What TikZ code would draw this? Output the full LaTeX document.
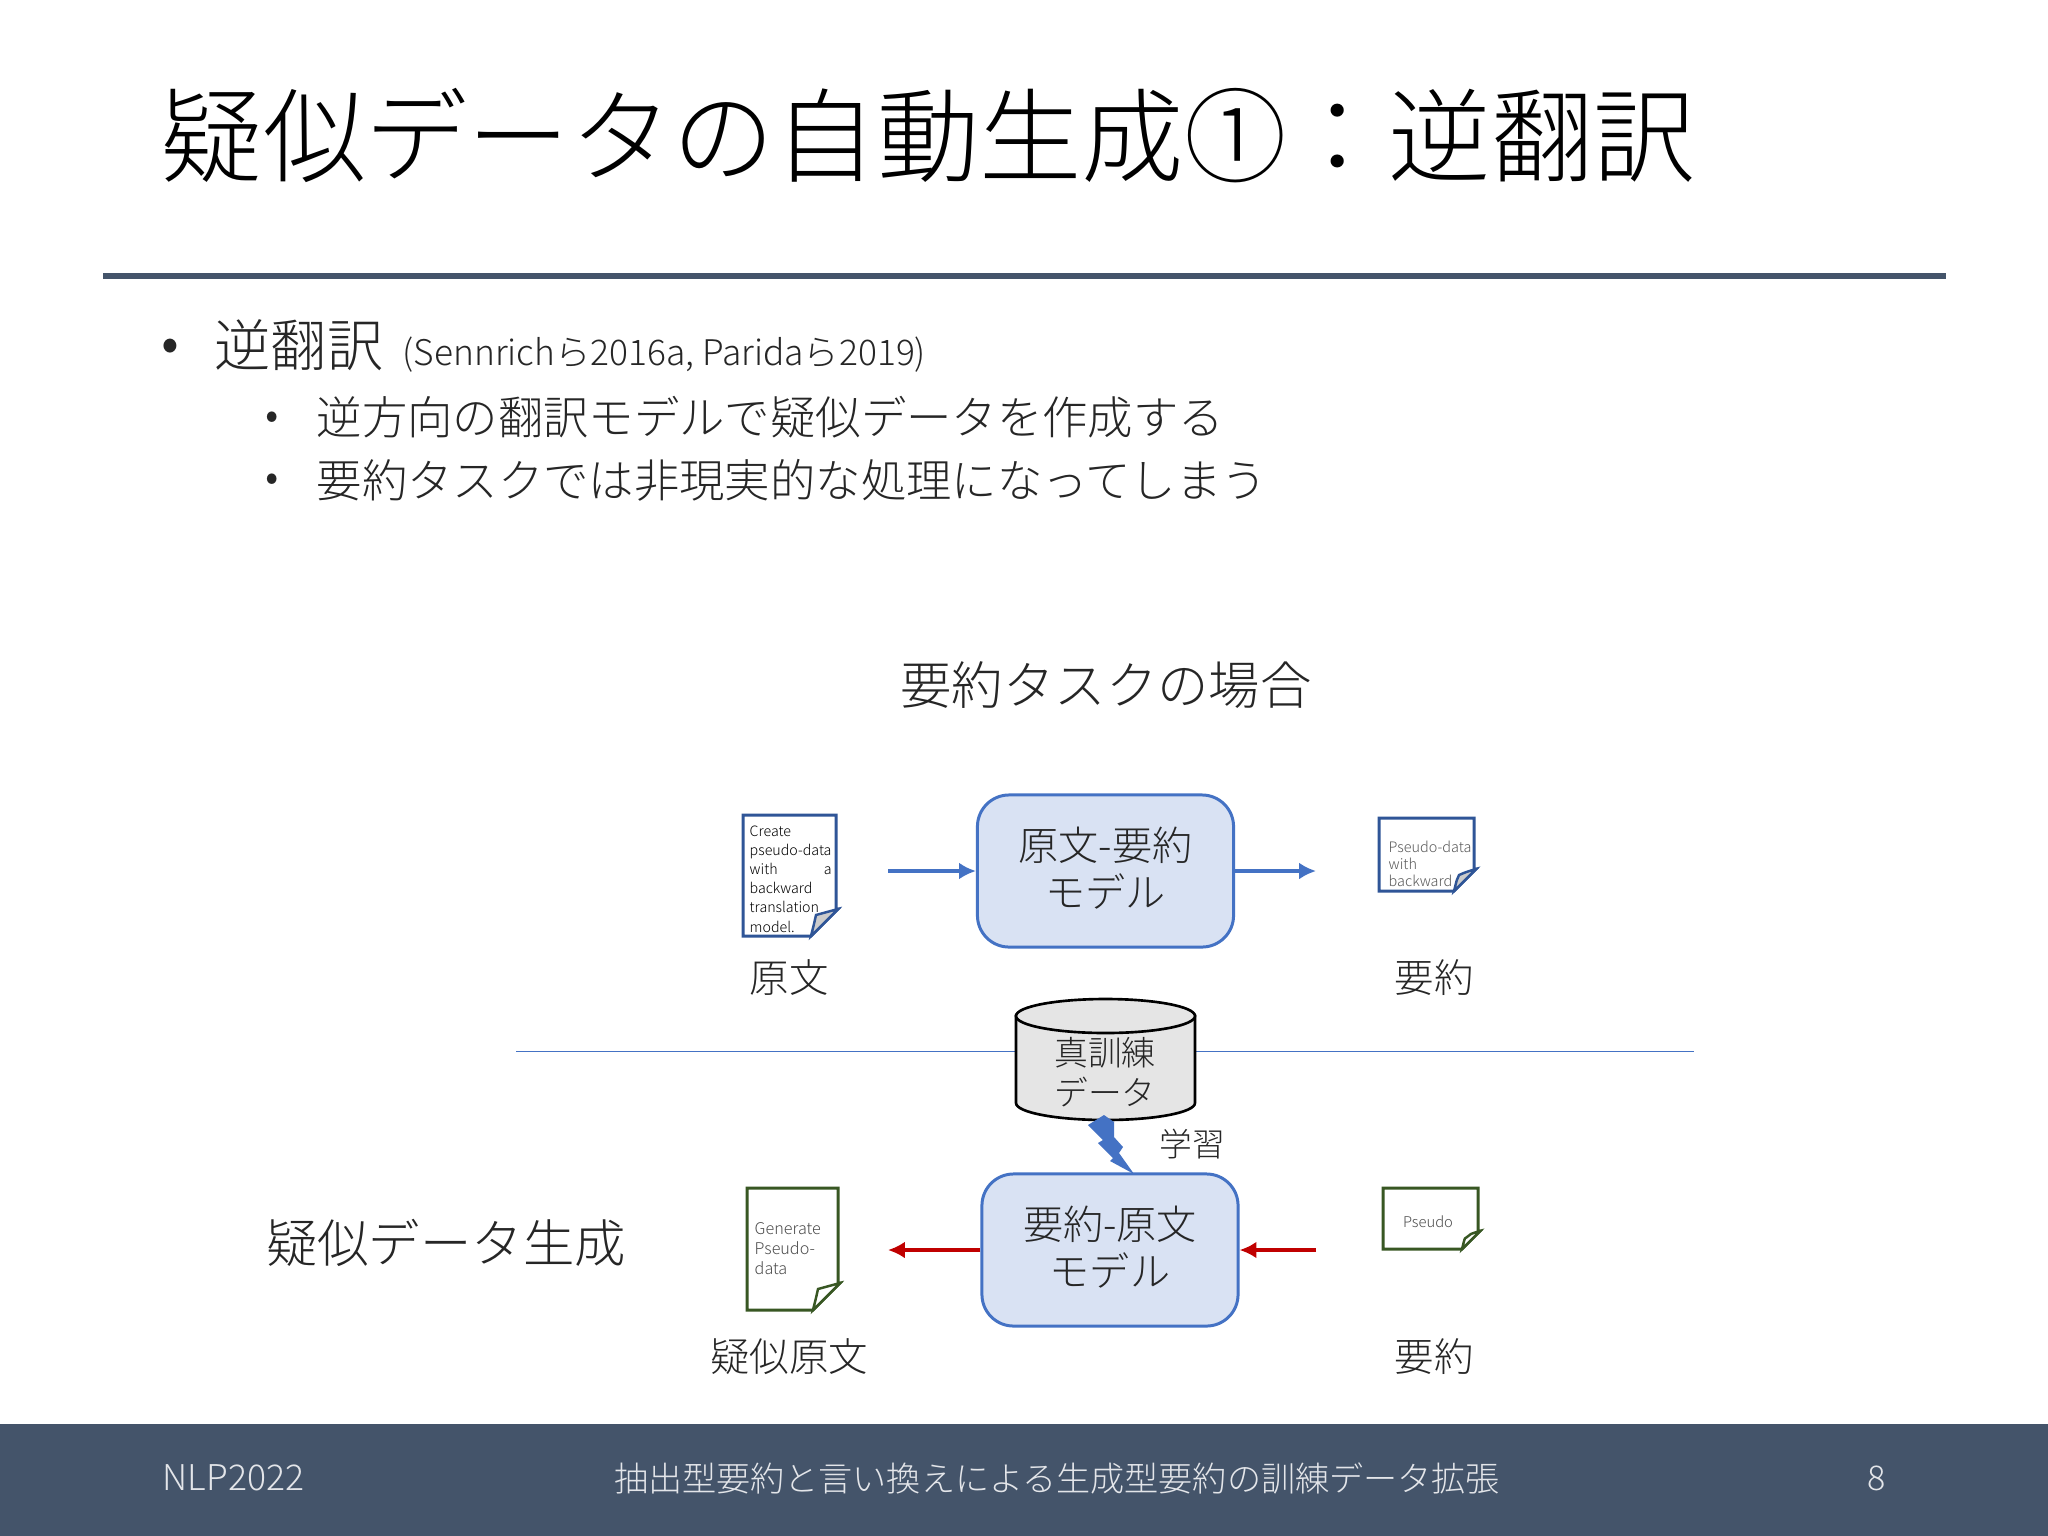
\documentclass[tikz,border=0pt]{standalone}
\usepackage{fontspec}
\setmainfont{Noto Sans CJK JP Light}
\usetikzlibrary{positioning}
\usetikzlibrary{arrows.meta}
\definecolor{slate}{HTML}{44546A}
\definecolor{modelblue}{HTML}{4472C4}
\definecolor{modelfill}{HTML}{D9E2F3}
\definecolor{docblue}{HTML}{2F5597}
\definecolor{docgreen}{HTML}{385723}
\definecolor{redarrow}{HTML}{C00000}
\newcommand{\sz}[2]{\fontsize{#1}{#2}\selectfont}
% x y x y colour fill fold
\newcommand{\drawdoc}[7]{
\draw[#5, line width=0.85pt, fill=white] (#1, #2) -- (#3, #2) -- (#3, #4 - #7) -- (#3 + 2, #4 - #7) -- (#3 + 2 - #7, #4) -- (#1, #4) -- cycle;
\draw[#5, line width=0.7pt, fill=#6] (#3 + 2, #4 - #7) .. controls (#3 - 8, #4 - #7 + 3) .. (#3 + 7 - #7, #4 - #7 + 6) .. controls (#3 + 5 - #7, #4 - 12) .. (#3 + 2 - #7, #4) -- cycle;
}
\tikzset{
  model/.style={draw=modelblue, line width=0.85pt, fill=modelfill, rounded corners=9pt, align=center, inner sep=0pt, minimum width=2.56cm, minimum height=1.52cm, font=\sz{11.4}{13.4}, text=black!85},
  flowblue/.style={-{Latex[length=4.8pt, width=4.8pt]}, modelblue, line width=0.95pt},
  flowred/.style={-{Latex[length=4.8pt, width=4.8pt]}, redarrow, line width=0.95pt},
  caption/.style={font=\sz{11.2}{13.4}, text=black!85, inner sep=0pt},
  head/.style={font=\sz{14.6}{17}, text=black!85, inner sep=0pt},
  body/.style={font=\sz{12.9}{15}, text=black!85, inner sep=0pt, anchor=west},
  dot/.style={inner sep=0pt, text=black!85},
  doctext/.style={inner sep=0pt, align=left, anchor=north west},
  foot/.style={font=\sz{9.7}{12}, text=white!85!slate, inner sep=0pt}
}
\begin{document}
\begin{tikzpicture}[x=0.01cm, y=-0.01cm]
\useasboundingbox (0, 0) rectangle (2048, 1536);
\fill[white] (0, 0) rectangle (2048, 1536);
% header
\node[inner sep=0pt, anchor=west, font=\sz{29.1}{32}, text=black] (title) at (160, 136) {疑似データの自動生成①：逆翻訳};
\fill[slate] (103, 273) rectangle (1946, 279);
\node[dot, font=\sz{16}{18}] (bulletA) at (170, 351) {•};
\node[body, font=\sz{16}{18}] (itemA) at (214, 345) {逆翻訳};
\node[body, font=\sz{10.05}{12}] (itemcite) at (402, 355) {(Sennrichら2016a, Paridaら2019)};
\node[dot, font=\sz{12}{14}] (bulletB) at (272, 421) {•};
\node[body] (itemB) at (316, 417) {逆方向の翻訳モデルで疑似データを作成する};
\node[dot, font=\sz{12}{14}] (bulletC) at (272, 483) {•};
\node[body] (itemC) at (316, 480) {要約タスクでは非現実的な処理になってしまう};
\node[head] (upperhead) at (1106, 685) {要約タスクの場合};
\node[head] (lowerhead) at (446, 1243) {疑似データ生成};
% divider
\coordinate (lineL) at (516, 1051);
\coordinate (lineR) at (1694, 1051);
% upper row
\node[model] (modelA) at (1105.5, 871) {原文-要約\\モデル\vspace{1.7pt}};
\drawdoc{743}{815}{836}{936}{docblue}{black!20}{27}
\drawdoc{1379}{818}{1474}{891}{docblue}{black!20}{22}
\node[doctext, font=\sz{4.05}{5.45}] (srcA) at (749, 825) {Create\\pseudo-data\\\hbox to 0.82cm{with\hfill a}\\backward\\translation\\model.};
\node[doctext, font=\sz{4.1}{4.9}, text=black!65] (sumA) at (1388, 840) {Pseudo-data\\with\\backward};
\coordinate (srcAout) at (888, 871);
\coordinate (sumAin) at (1316, 871);
\draw[flowblue] (srcAout) -- (modelA);
\draw[flowblue] (modelA) -- (sumAin);
\node[caption] (capsrcA) at (789, 978) {原文};
\node[caption] (capsumA) at (1434, 978) {要約};
% cylinder
\draw[modelblue, line width=0.25pt] (lineL) -- (1016, 1051);
\draw[modelblue, line width=0.25pt] (1195, 1051) -- (lineR);
\draw[black, line width=0.75pt, fill=black!10] (1016, 1016) -- (1016, 1103) arc[start angle=180, end angle=360, x radius=89.5, y radius=-17] -- (1195, 1016) -- cycle;
\draw[black, line width=0.75pt, fill=black!10] (1105.5, 1016) ellipse[x radius=89.5, y radius=17];
\node[inner sep=0pt, align=center, font=\sz{9.6}{11.2}, text=black!85] (corpus) at (1105, 1072) {真訓練\\データ};
% bolt
\fill[modelblue] (1104, 1115) -- (1088, 1125) -- (1103, 1140) -- (1098, 1143) -- (1113, 1158) -- (1110, 1161) -- (1134, 1174) -- (1119, 1153) -- (1123, 1147) -- (1114, 1137) -- (1114, 1122) -- cycle;
\node[inner sep=0pt, font=\sz{9.3}{11}, text=black!85] (learn) at (1192, 1144) {学習};
% lower row
\node[model] (modelB) at (1110, 1250) {要約-原文\\モデル\vspace{1.7pt}};
\drawdoc{747}{1188}{838}{1310}{docgreen}{white}{27}
\drawdoc{1383}{1188}{1478}{1249}{docgreen}{white}{18}
\node[doctext, font=\sz{4.6}{5.6}, text=black!70] (srcB) at (754, 1222) {Generate\\Pseudo-\\data};
\node[inner sep=0pt, font=\sz{4.2}{5}, text=black!70] (sumB) at (1428, 1222) {Pseudo};
\coordinate (srcBout) at (888, 1250);
\coordinate (sumBin) at (1316, 1250);
\draw[flowred] (modelB) -- (srcBout);
\draw[flowred] (sumBin) -- (modelB);
\node[caption] (capsrcB) at (789, 1357) {疑似原文};
\node[caption] (capsumB) at (1434, 1357) {要約};
% footer
\fill[slate] (0, 1424) rectangle (2048, 1536);
\node[foot, anchor=west, font=\sz{10.1}{12}] (footL) at (162, 1478) {NLP2022};
\node[foot] (footC) at (1057, 1478) {抽出型要約と言い換えによる生成型要約の訓練データ拡張};
\node[foot] (footR) at (1877, 1478) {8};
\end{tikzpicture}
\end{document}
